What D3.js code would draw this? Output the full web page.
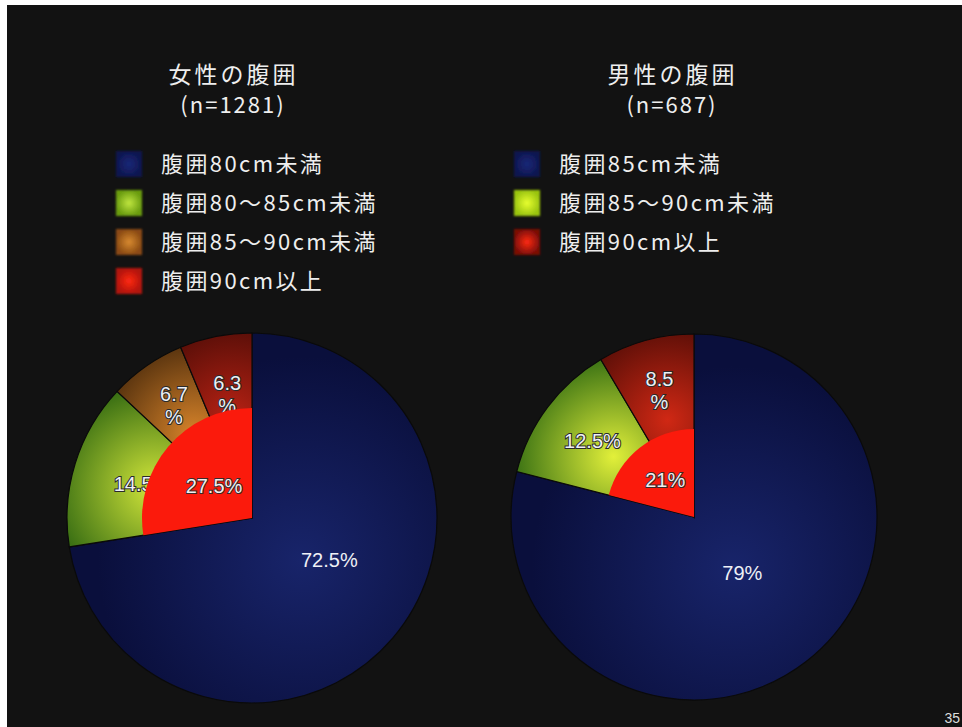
<!DOCTYPE html>
<html>
<head>
<meta charset="utf-8">
<script src="https://cdn.jsdelivr.net/npm/d3@7"></script>
<style>
  html, body { margin: 0; padding: 0; background: #ffffff; }
  svg { display: block; }
</style>
</head>
<body>
<svg id="chart" width="962" height="727"></svg>
<script>
// Waist circumference distribution, women and men
const femaleTitle = ["女性の腹囲", "(n=1281)"];
const femaleCategories = ["腹囲80cm未満", "腹囲80〜85cm未満", "腹囲85〜90cm未満", "腹囲90cm以上"];
const femaleValues = [72.5, 14.5, 6.7, 6.3];

const maleTitle = ["男性の腹囲", "(n=687)"];
const maleCategories = ["腹囲85cm未満", "腹囲85〜90cm未満", "腹囲90cm以上"];
const maleValues = [79, 12.5, 8.5];

const pageNumber = "35";

// slice palettes: [bright centre, dark edge]
const femaleColors = [
  ["#18246a", "#0a0f3c"],
  ["#d2e63a", "#2c6410"],
  ["#d8842a", "#3a2008"],
  ["#b82214", "#440a05"]
];
const maleColors = [
  ["#18246a", "#0a0f3c"],
  ["#e2f03a", "#286410"],
  ["#d02814", "#460a05"]
];
const legendColors = {
  f: [["#1a2878", "#0e1650"], ["#c0e640", "#6a9c10"], ["#d88a30", "#8a4a12"], ["#ff2a14", "#b01208"]],
  m: [["#1a2878", "#0e1650"], ["#e8ff30", "#9ac410"], ["#ff2a14", "#7a0e06"]]
};
const innerRed = "#fb1a0c";

const svg = d3.select("#chart");
const W = 962, H = 727;
const defs = svg.append("defs");

// slide frame
svg.append("rect").attr("x", 0).attr("y", 0).attr("width", W).attr("height", H).attr("fill", "#ffffff");
svg.append("rect").attr("x", 7).attr("y", 5).attr("width", W - 7).attr("height", H - 5).attr("fill", "#121212");

const blur = defs.append("filter").attr("id", "soft").attr("x", "-30%").attr("y", "-30%").attr("width", "160%").attr("height", "160%");
blur.append("feGaussianBlur").attr("stdDeviation", 1.3);

const textFont = "'Noto Sans CJK JP', 'Noto Sans', sans-serif";
const numFont = "'Liberation Sans', Arial, Helvetica, sans-serif";
const rad = Math.PI / 180;

function drawPanel(opts) {
  const { id, title, categories, values, colors, cx, cy, r, innerR,
          titleX, legendX, legendY, labelR, labelTurn, innerLabelR } = opts;
  const g = svg.append("g");

  // title
  g.append("text")
    .attr("x", titleX + 1.5).attr("y", 83)
    .attr("text-anchor", "middle")
    .attr("font-family", textFont)
    .attr("font-size", 23)
    .attr("letter-spacing", 3)
    .attr("fill", "#eeeeee")
    .text(title[0]);
  g.append("text")
    .attr("x", titleX + 1).attr("y", 113)
    .attr("text-anchor", "middle")
    .attr("font-family", textFont)
    .attr("font-size", 22)
    .attr("letter-spacing", 2)
    .attr("fill", "#eeeeee")
    .text(title[1]);

  // legend
  const leg = g.append("g").attr("transform", `translate(${legendX},${legendY})`);
  categories.forEach((c, i) => {
    const gid = `${id}-leg-${i}`;
    const lc = legendColors[id][i];
    const rg = defs.append("radialGradient").attr("id", gid);
    rg.append("stop").attr("offset", "0%").attr("stop-color", lc[0]);
    rg.append("stop").attr("offset", "100%").attr("stop-color", lc[1]);
    leg.append("rect")
      .attr("x", 0).attr("y", i * 39 - 13)
      .attr("width", 26).attr("height", 26)
      .attr("fill", `url(#${gid})`)
      .attr("filter", "url(#soft)");
    leg.append("text")
      .attr("x", 45).attr("y", i * 39 + 8)
      .attr("font-family", textFont)
      .attr("font-size", 22)
      .attr("letter-spacing", 2.4)
      .attr("fill", "#eeeeee")
      .text(c);
  });

  const pie = d3.pie().sort(null).value(d => d);
  const arcs = pie(values);
  const arc = d3.arc().innerRadius(0).outerRadius(r);
  const pg = g.append("g").attr("transform", `translate(${cx},${cy})`);

  // per-slice glow gradients
  arcs.forEach((a, i) => {
    const mid = (a.startAngle + a.endAngle) / 2;
    const gid = `${id}-slice-${i}`;
    const rg = defs.append("radialGradient").attr("id", gid).attr("gradientUnits", "userSpaceOnUse");
    if (i === 0) {
      rg.attr("cx", r * 0.35 * Math.sin(mid)).attr("cy", -r * 0.35 * Math.cos(mid)).attr("r", r * 1.1);
    } else {
      const gr = r * 0.55;
      rg.attr("cx", gr * Math.sin(mid)).attr("cy", -gr * Math.cos(mid)).attr("r", r * 0.6);
    }
    rg.append("stop").attr("offset", "0%").attr("stop-color", colors[i][0]);
    rg.append("stop").attr("offset", "100%").attr("stop-color", colors[i][1]);
  });

  pg.selectAll("path.slice").data(arcs).join("path")
    .attr("d", arc)
    .attr("fill", (d, i) => `url(#${id}-slice-${i})`)
    .attr("stroke", "#0a0a0a")
    .attr("stroke-width", 1.2);

  // slice labels (a trailing % goes on its own line for narrow slices)
  arcs.forEach((a, i) => {
    const mid = (a.startAngle + a.endAngle) / 2 + labelTurn[i] * rad;
    const lr = labelR[i];
    const x = lr * Math.sin(mid), y = -lr * Math.cos(mid);
    const v = a.data;
    const lines = v < 10 ? [String(v), "%"] : [v + "%"];
    const t = pg.append("text")
      .attr("text-anchor", "middle")
      .attr("font-family", numFont)
      .attr("font-size", 20)
      .attr("fill", "#eef0f6")
      .attr("stroke", "#2a2a2a")
      .attr("stroke-width", i === 0 ? 0 : 2)
      .attr("paint-order", "stroke");
    lines.forEach((l, k) => {
      t.append("tspan").attr("x", x)
        .attr("y", y + 7 + (k - (lines.length - 1) / 2) * 23)
        .text(l);
    });
  });

  // combined share of the upper groups, drawn over the smaller slices
  const rest = +(d3.sum(values.slice(1))).toFixed(1);
  const innerArc = d3.arc().innerRadius(0).outerRadius(innerR)
    .startAngle(arcs[1].startAngle).endAngle(arcs[arcs.length - 1].endAngle);
  pg.append("path").attr("d", innerArc()).attr("fill", innerRed);
  const imid = (arcs[1].startAngle + arcs[arcs.length - 1].endAngle) / 2;
  pg.append("text")
    .attr("x", innerLabelR * Math.sin(imid))
    .attr("y", -innerLabelR * Math.cos(imid) + 7)
    .attr("text-anchor", "middle")
    .attr("font-family", numFont)
    .attr("font-size", 20)
    .attr("fill", "#f2eef0")
    .attr("stroke", "#3a2a2a")
    .attr("stroke-width", 2)
    .attr("paint-order", "stroke")
    .text(rest + "%");
}

drawPanel({
  id: "f", title: femaleTitle, categories: femaleCategories, values: femaleValues,
  colors: femaleColors,
  cx: 252, cy: 518, r: 185, innerR: 110,
  titleX: 232, legendX: 116, legendY: 164,
  labelR: [88, 115, 137, 126], labelTurn: [-12, 0, 0, 0], innerLabelR: 50
});

drawPanel({
  id: "m", title: maleTitle, categories: maleCategories, values: maleValues,
  colors: maleColors,
  cx: 694, cy: 517, r: 183, innerR: 88,
  titleX: 671, legendX: 514, legendY: 164,
  labelR: [74, 127, 131], labelTurn: [-3, 0, 0], innerLabelR: 47
});

svg.append("text")
  .attr("x", 960).attr("y", 723)
  .attr("text-anchor", "end")
  .attr("font-family", numFont)
  .attr("font-size", 14)
  .attr("fill", "#dddddd")
  .text(pageNumber);
</script>
</body>
</html>
